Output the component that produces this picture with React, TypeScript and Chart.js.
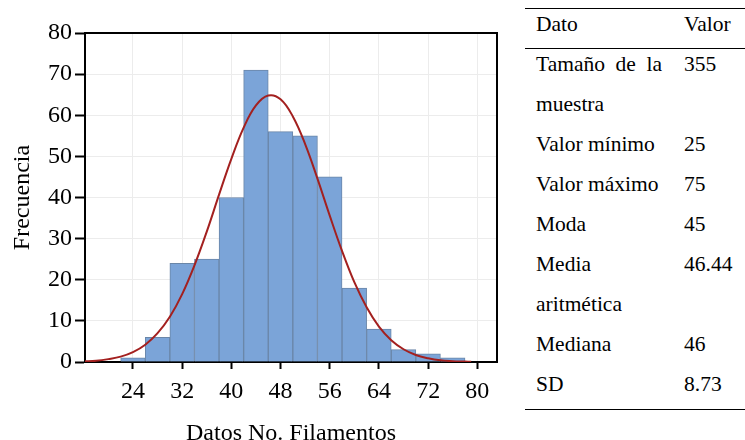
import React, { useEffect, useRef } from "react";
import { Chart, registerables } from "chart.js";

Chart.register(...registerables);

// Histogram bins (centre of each 4-unit bin) and frequencies
const binCenters = [24, 28, 32, 36, 40, 44, 48, 52, 56, 60, 64, 68, 72, 76];
const frequencies = [1, 6, 24, 25, 40, 71, 56, 55, 45, 18, 8, 3, 2, 1];

// Fitted normal curve
const curveX = [16, 18, 20, 22, 24, 26, 28, 30, 32, 34, 36, 38, 40, 42, 44, 46, 48, 50, 52, 54, 56, 58, 60, 62, 64, 66, 68, 70, 72, 74, 76, 78, 79];
const curveY = [0.15, 0.3, 0.7, 1.3, 2.4, 4.2, 7.0, 11.0, 16.5, 23.5, 31.7, 40.7, 49.4, 57.0, 62.4, 64.8, 63.9, 59.7, 53.0, 44.6, 35.6, 27.0, 19.4, 13.3, 8.6, 5.3, 3.1, 1.7, 0.9, 0.4, 0.2, 0.1, 0.05];

const xTicks = [24, 32, 40, 48, 56, 64, 72, 80];
const yTicks = [0, 10, 20, 30, 40, 50, 60, 70, 80];

// Table
const tableHeader = ["Dato", "Valor"];
const tableLabels = ["Tamaño de la muestra", "Valor mínimo", "Valor máximo", "Moda", "Media aritmética", "Mediana", "SD"];
const tableValues = ["355", "25", "75", "45", "46.44", "46", "8.73"];

const FONT = "'Liberation Serif', 'Times New Roman', serif";

const frame = {
  id: "frame",
  afterDraw(chart: any) {
    const { ctx, chartArea } = chart;
    ctx.save();
    ctx.strokeStyle = "#000";
    ctx.lineWidth = 2;
    ctx.beginPath();
    ctx.moveTo(chartArea.left, chartArea.top);
    ctx.lineTo(chartArea.right, chartArea.top);
    ctx.lineTo(chartArea.right, chartArea.bottom);
    ctx.stroke();
    ctx.restore();
  },
};

function App() {
  const ref = useRef<HTMLCanvasElement>(null);
  useEffect(() => {
    const chart = new Chart(ref.current!, {
      type: "bar",
      data: {
        datasets: [
          {
            type: "line",
            data: curveX.map((x, i) => ({ x, y: curveY[i] })),
            borderColor: "#a3201f",
            borderWidth: 2,
            pointRadius: 0,
            tension: 0.4,
            fill: false,
            order: 0,
          } as any,
          {
            type: "bar",
            data: binCenters.map((x, i) => ({ x, y: frequencies[i] })),
            backgroundColor: "#7ba4d8",
            borderColor: "#6a86a8",
            borderWidth: 1,
            barPercentage: 1,
            categoryPercentage: 1,
            order: 1,
          } as any,
        ],
      },
      options: {
        animation: false,
        responsive: false,
        layout: { padding: { left: 0, right: 13, top: 33, bottom: 0 } },
        plugins: { legend: { display: false }, tooltip: { enabled: false } },
        scales: {
          x: {
            type: "linear",
            offset: false,
            min: 16.2,
            max: 83.2,
            afterBuildTicks: (s: any) => {
              s.ticks = xTicks.map((v) => ({ value: v }));
            },
            afterFit: (s: any) => {
              s.height = 78;
            },
            grid: { offset: false, color: "#ececec", tickColor: "#000", tickWidth: 2, tickLength: 7 },
            border: { color: "#000", width: 2 },
            ticks: { color: "#000", font: { family: FONT, size: 24 }, padding: 8, maxRotation: 0 },
            title: { display: true, text: "Datos No. Filamentos", color: "#000", font: { family: FONT, size: 24 }, padding: { top: 0, bottom: -8 } },
          },
          y: {
            min: 0,
            max: 80,
            afterBuildTicks: (s: any) => {
              s.ticks = yTicks.map((v) => ({ value: v }));
            },
            afterFit: (s: any) => {
              s.width = 85;
            },
            grid: { color: "#ececec", tickColor: "#000", tickWidth: 2, tickLength: 10 },
            border: { color: "#000", width: 2 },
            ticks: { color: "#000", font: { family: FONT, size: 24 }, padding: 3 },
            title: { display: true, text: "Frecuencia", color: "#000", font: { family: FONT, size: 24 }, padding: { top: 8, bottom: 0 } },
          },
        },
      },
      plugins: [frame],
    });
    return () => chart.destroy();
  }, []);

  const rowStyle: React.CSSProperties = { display: "flex", lineHeight: "40px" };
  return (
    <div style={{ position: "absolute", left: 0, top: 0, width: 745, height: 440, background: "#fff", fontFamily: FONT }}>
      <canvas ref={ref} width={510} height={440} style={{ position: "absolute", left: 0, top: 0 }} />
      <div style={{ position: "absolute", left: 525, top: 8, width: 220, borderTop: "1.5px solid #000" }} />
      <div style={{ position: "absolute", left: 525, top: 48, width: 220, borderTop: "1.5px solid #000" }} />
      <div style={{ position: "absolute", left: 525, top: 409, width: 220, borderTop: "1.5px solid #000" }} />
      <div style={{ position: "absolute", left: 536, top: 4, width: 209, fontSize: 21.5, color: "#000" }}>
        <div style={rowStyle}>
          <div style={{ width: 148 }}>{tableHeader[0]}</div>
          <div>{tableHeader[1]}</div>
        </div>
      </div>
      <div style={{ position: "absolute", left: 536, top: 44, width: 209, fontSize: 21.5, color: "#000" }}>
        {tableLabels.map((l, i) => (
          <div key={i} style={rowStyle}>
            <div style={{ width: 126, marginRight: 22, textAlign: "justify" }}>{l}</div>
            <div>{tableValues[i]}</div>
          </div>
        ))}
      </div>
    </div>
  );
}

export default App;
